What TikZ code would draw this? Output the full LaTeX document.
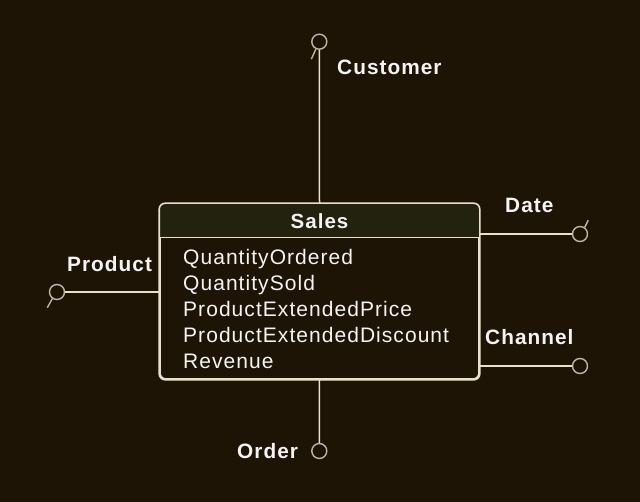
\documentclass[tikz,border=0pt]{standalone}
\usepackage{fontspec}
\setmainfont{Liberation Sans}[LetterSpace=5]
\usepackage{tikz}
\definecolor{bgcol}{HTML}{1E1405}
\definecolor{hdrcol}{HTML}{23220F}
\definecolor{linecol}{HTML}{E6E2CC}
\definecolor{endcol}{HTML}{BDB8A0}
\definecolor{txtcol}{HTML}{F4F4F4}
\tikzset{
	table/.style  = {draw=linecol, line width=1.6pt, rectangle, rounded corners=6pt, minimum width=319pt, minimum height=175pt, inner sep=0pt},
	title/.style  = {text=txtcol, font=\fontsize{20.5}{24}\bfseries, inner sep=0pt},
	field/.style  = {text=txtcol, font=\fontsize{21}{26}\selectfont, inner sep=0pt, anchor=base west},
	label/.style  = {text=txtcol, font=\fontsize{20.8}{24}\bfseries, inner sep=0pt, anchor=base west},
	optend/.style = {draw=endcol, line width=1.4pt, circle, minimum size=15pt, inner sep=0pt},
	link/.style   = {draw=linecol, line width=1.5pt},
	tick/.style   = {draw=endcol, line width=1.4pt},
	hidden/.style = {coordinate},
}

\begin{document}
\begin{tikzpicture}[x=1pt, y=-1pt]
		% Background
		\fill[bgcol] (0,0) rectangle (640,502);
		\useasboundingbox (0,0) rectangle (640,502);
		
		% Draw the fact table
		\node[table, fill=bgcol] (sales) at (319.5,291.5) {};
		\begin{scope}
			\clip[rounded corners=6pt] (sales.north west) rectangle (sales.south east);
			\fill[hdrcol] (sales.north west) rectangle ([yshift=-34.5pt]sales.north east);
		\end{scope}
		\draw[link] ([yshift=-34.5pt]sales.north west) -- ([yshift=-34.5pt]sales.north east);
		\draw[table] (sales.north west) rectangle (sales.south east);
		\node[title] (head) at (319.5,221) {Sales};
		\foreach \name [count=\i] in {QuantityOrdered, QuantitySold, ProductExtendedPrice, ProductExtendedDiscount, Revenue}
			\node[field] (f\i) at (183,{265+26*(\i-1)}) {\name};
		
		% Draw the dimension ends
		\node[optend] (customer) at (319.3,41.7) {};
		\node[optend] (product)  at (57,292) {};
		\node[optend] (date)     at (580,234) {};
		\node[optend] (channel)  at (580,366) {};
		\node[optend] (order)    at (319.3,451) {};
		
		% Connect everything together
		\draw[link] (sales.north) -- (customer.south);
		\draw[link] (sales.west |- product) -- (product.east);
		\draw[link] (sales.east |- date) -- (date.west);
		\draw[link] (sales.east |- channel) -- (channel.west);
		\draw[link] (sales.south) -- (order.north);
		
		\draw[tick] (customer.245) -- ++(-4.5,10);
		\draw[tick] (product.235) -- ++(-5,9);
		\draw[tick] (date.55) -- ++(3.5,-7);
		
		% Dimension labels
		\node[label] (lcustomer) at (337,75)  {Customer};
		\node[label] (lproduct)  at (67,272)  {Product};
		\node[label] (ldate)     at (505,213) {Date};
		\node[label] (lchannel)  at (485,345) {Channel};
		\node[label] (lorder)    at (237,458) {Order};
	\end{tikzpicture}
\end{document}
